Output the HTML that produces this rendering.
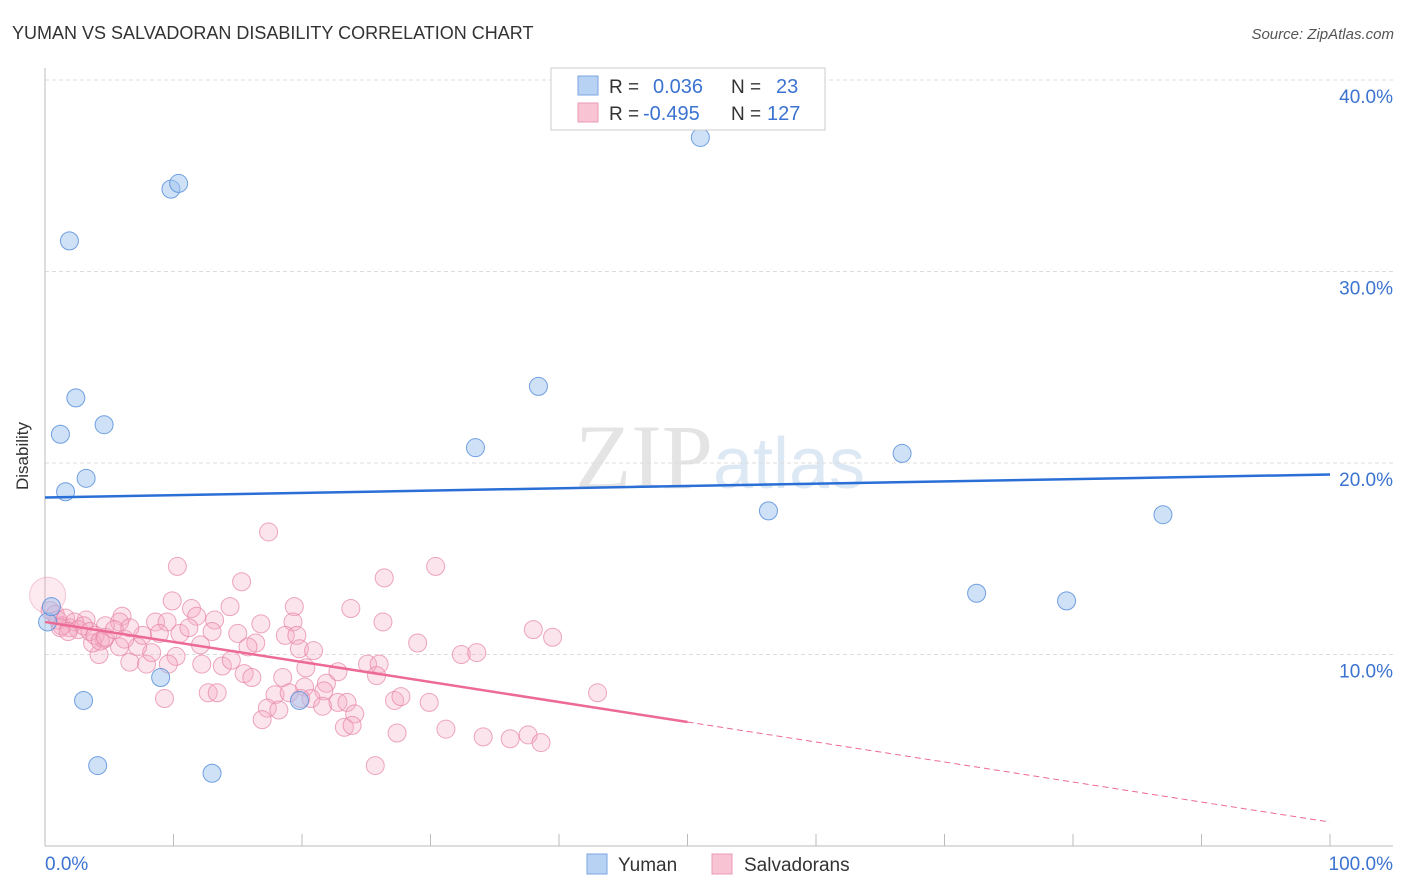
<!DOCTYPE html>
<html><head><meta charset="utf-8"><style>
body{margin:0;background:#fff;font-family:"Liberation Sans",sans-serif;}
svg{display:block}
</style></head><body>
<svg id="chart" width="1406" height="892">
<text x="12" y="39" font-size="18" fill="#333">YUMAN VS SALVADORAN DISABILITY CORRELATION CHART</text>
<text x="1394" y="39" font-size="15" fill="#555" font-style="italic" text-anchor="end">Source: ZipAtlas.com</text>
<text x="720" y="488" font-size="92" fill="#e4e4e4" text-anchor="middle" font-family="Liberation Serif,serif">ZIP<tspan fill="#dde8f5" font-family="Liberation Sans,sans-serif" font-size="72">atlas</tspan></text>
<g id="grid"></g><g id="pinkg"></g><g id="blueg"></g><g id="lines"></g>
<text x="28" y="456" font-size="17" fill="#333" text-anchor="middle" transform="rotate(-90 28 456)">Disability</text>
<g>
<rect x="551" y="68" width="274" height="62" fill="#fff" stroke="#ccc"/>
<rect x="578" y="76" width="20" height="19" fill="#b8d2f3" stroke="#7aa6e0"/>
<text x="609" y="93" font-size="19" fill="#333">R =</text><text x="653" y="93" font-size="20" fill="#3b73d1">0.036</text>
<text x="731" y="93" font-size="19" fill="#333">N =</text><text x="776" y="93" font-size="20" fill="#3b73d1">23</text>
<rect x="578" y="103" width="20" height="19" fill="#f8c4d3" stroke="#e99ab4"/>
<text x="609" y="120" font-size="19" fill="#333">R =</text><text x="643" y="120" font-size="20" fill="#3b73d1">-0.495</text>
<text x="731" y="120" font-size="19" fill="#333">N =</text><text x="767" y="120" font-size="20" fill="#3b73d1">127</text>
</g>
<g>
<rect x="587" y="854" width="20" height="20" fill="#b8d2f3" stroke="#7aa6e0"/>
<text x="618" y="871" font-size="19" fill="#333">Yuman</text>
<rect x="712" y="854" width="20" height="20" fill="#f8c4d3" stroke="#e99ab4"/>
<text x="744" y="871" font-size="19" fill="#333">Salvadorans</text>
</g>
</svg>
<script>
const yTicks=[10,20,30,40];
const yTickLabels=["10.0%","20.0%","30.0%","40.0%"];
const xTicks=[0,10,20,30,40,50,60,70,80,90,100];
const blueX=[0.2,0.5,1.2,1.6,1.9,2.4,3.0,3.2,4.1,4.6,9.0,9.8,10.4,13.0,19.8,33.5,38.4,51.0,56.3,66.7,72.5,79.5,87.0];
const blueY=[11.7,12.5,21.5,18.5,31.6,23.4,7.6,19.2,4.2,22.0,8.8,34.3,34.6,3.8,7.6,20.8,24.0,37.0,17.5,20.5,13.2,12.8,17.3];
const pinkX=[17.4,10.3,30.4,26.4,15.3,9.9,14.4,19.4,23.8,26.3,19.3,16.8,11.4,11.8,13.2,13.0,8.6,9.5,6.0,5.8,4.7,3.2,15.0,18.7,19.6,38.0,39.5,29.0,32.4,33.6,16.4,15.8,19.8,20.9,10.5,11.2,12.1,10.2,9.6,6.6,7.9,8.3,7.2,5.8,4.2,3.7,4.6,7.6,8.9,12.2,13.8,14.5,25.1,26.0,22.8,20.3,25.8,15.5,16.1,18.5,21.9,20.2,21.7,20.7,19.9,21.6,22.8,23.5,24.1,23.3,23.9,17.9,19.0,12.7,13.4,9.3,17.3,18.2,16.9,27.2,27.7,29.9,27.4,31.2,34.1,36.2,37.6,38.6,43.0,25.7,0.4,0.8,1.0,1.3,1.6,1.9,2.3,2.6,3.0,3.5,3.9,4.3,4.7,5.4,6.2,6.6,1.2,1.8];
const pinkY=[16.4,14.6,14.6,14.0,13.8,12.8,12.5,12.5,12.4,11.7,11.7,11.6,12.4,12.0,11.8,11.2,11.7,11.7,12.0,11.7,11.5,11.8,11.1,11.0,11.0,11.3,10.9,10.6,10.0,10.1,10.6,10.4,10.3,10.2,11.1,11.4,10.5,9.9,9.5,9.6,9.5,10.1,10.4,10.4,10.0,10.6,10.8,11.0,11.1,9.5,9.4,9.7,9.5,9.5,9.1,9.3,8.9,9.0,8.8,8.8,8.5,8.3,8.1,7.7,7.7,7.3,7.5,7.5,6.9,6.2,6.3,7.9,8.0,8.0,8.0,7.7,7.2,7.1,6.6,7.6,7.8,7.5,5.9,6.1,5.7,5.6,5.8,5.4,8.0,4.2,12.3,12.1,11.8,11.5,11.9,11.4,11.7,11.3,11.5,11.2,11.0,10.7,10.9,11.3,10.8,11.4,11.4,11.2];
const blueTrend=[18.2,19.4];
const pinkTrend=[11.7,1.25];
const pinkSolidEnd=50;
const NS="http://www.w3.org/2000/svg";
function sx(v){return 45+v*12.85;}
function sy(v){return 846-v*19.15;}
function mk(tag,attrs,parent){const e=document.createElementNS(NS,tag);for(const k in attrs)e.setAttribute(k,attrs[k]);parent.appendChild(e);return e;}
const grid=document.getElementById('grid');
yTicks.forEach((t,i)=>{
 const l=mk('line',{x1:45,x2:1393,y1:sy(t),y2:sy(t),stroke:'#ddd','stroke-dasharray':'4,3'},grid);
 
 
 const tx=mk('text',{x:1393,y:sy(t)+23,'font-size':19,fill:'#3b73d1','text-anchor':'end'},grid);
 tx.textContent=yTickLabels[i];
 
 
});
const ax=mk('line',{x1:45,x2:1393,y1:846,y2:846,stroke:'#bbb'},grid);


const ay=mk('line',{x1:45,x2:45,y1:68,y2:846,stroke:'#bbb'},grid);


xTicks.forEach(t=>{
 const l=mk('line',{x1:sx(t),x2:sx(t),y1:834,y2:846,stroke:'#bbb'},grid);
 
 
});
const x0=mk('text',{x:45,y:870,'font-size':19,fill:'#3b73d1'},grid);x0.textContent='0.0%';


const x1=mk('text',{x:1393,y:870,'font-size':19,fill:'#3b73d1','text-anchor':'end'},grid);x1.textContent='100.0%';


const pg=document.getElementById('pinkg');
const big=mk('circle',{cx:sx(0.2),cy:sy(13.1),r:18,fill:'rgba(245,170,195,0.25)',stroke:'rgba(230,130,165,0.4)'},pg);


pinkX.forEach((x,i)=>{
 const c=mk('circle',{cx:sx(x),cy:sy(pinkY[i]),r:9,fill:'rgba(245,170,195,0.32)',stroke:'rgba(230,130,165,0.7)'},pg);
 
 
});
const bg=document.getElementById('blueg');
blueX.forEach((x,i)=>{
 const c=mk('circle',{cx:sx(x),cy:sy(blueY[i]),r:9,fill:'rgba(160,195,240,0.5)',stroke:'rgba(90,145,220,0.85)'},bg);
 
 
});
const lg=document.getElementById('lines');
const bl=mk('line',{x1:sx(0),y1:sy(blueTrend[0]),x2:sx(100),y2:sy(blueTrend[1]),stroke:'#2a6fd6','stroke-width':2.5},lg);


const pm=pinkTrend[0]+(pinkTrend[1]-pinkTrend[0])*pinkSolidEnd/100;
const pl=mk('line',{x1:sx(0),y1:sy(pinkTrend[0]),x2:sx(pinkSolidEnd),y2:sy(pm),stroke:'#ec6a94','stroke-width':2.5},lg);


const pd=mk('line',{x1:sx(pinkSolidEnd),y1:sy(pm),x2:sx(100),y2:sy(pinkTrend[1]),stroke:'#ec6a94','stroke-width':1,'stroke-dasharray':'6,4'},lg);


</script>
</body></html>
